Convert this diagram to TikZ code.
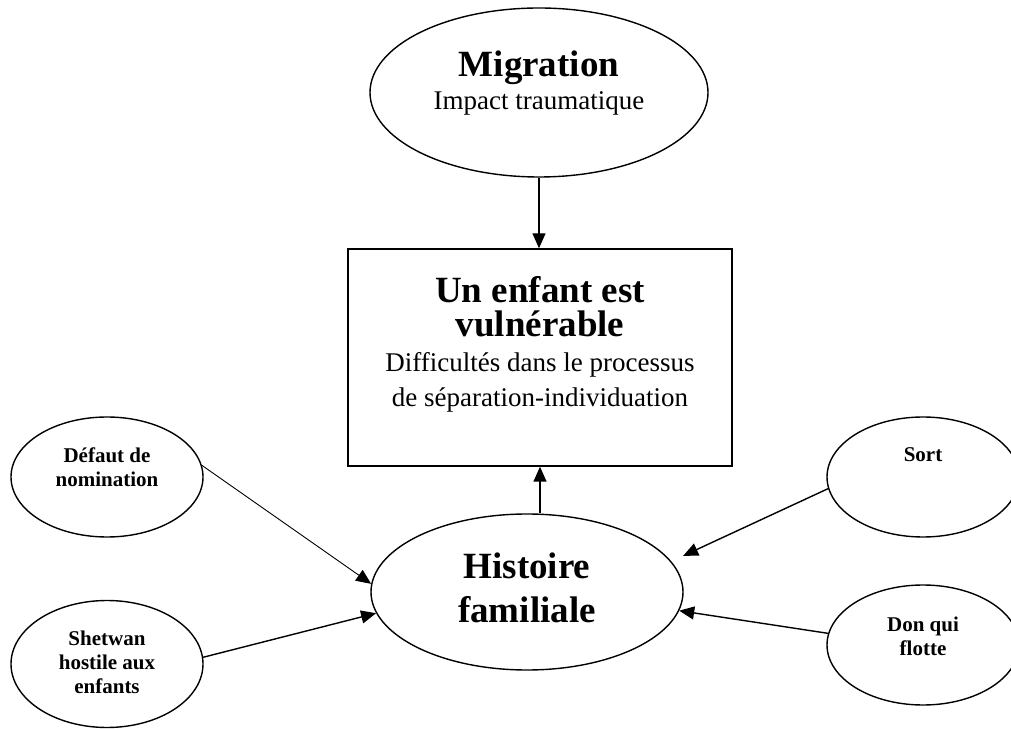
\documentclass[tikz,border=0pt]{standalone}
\usepackage{fontspec}
\setmainfont{Liberation Serif}
\usetikzlibrary{shapes.geometric,arrows.meta}
\begin{document}
\begin{tikzpicture}[x=1pt,y=1pt,
  ell/.style={draw, ellipse, line width=1.4pt, inner sep=0pt},
  big/.style={font=\fontsize{37}{34}\selectfont\bfseries, align=center, anchor=base},
  sub/.style={font=\fontsize{27}{35}\selectfont, align=center, anchor=base},
  sm/.style={font=\fontsize{21}{24}\selectfont\bfseries, align=center, anchor=base},
  arr/.style={-{Triangle[length=15pt,width=13pt]}, line width=1.4pt}]
\useasboundingbox (0,0) rectangle (1011,728);
% top ellipse
\node[ell, minimum width=338pt, minimum height=169pt] (mig) at (539,635.5) {};
\node[big] (migt) at (539,651) {Migration};
\node[sub] (migs) at (539,618) {Impact traumatique};
% box
\node[draw, line width=1.4pt, minimum width=384pt, minimum height=217pt, inner sep=0pt] (box) at (540,370.5) {};
\node[big] (boxt) at (540,391) {Un enfant est\\vulnérable};
\node[sub] (boxs) at (540,321) {Difficultés dans le processus\\de séparation-individuation};
% central ellipse
\node[ell, minimum width=312pt, minimum height=156pt] (hist) at (527,136) {};
\node[big, font=\fontsize{37}{44}\selectfont\bfseries] (histt) at (527,106) {Histoire\\familiale};
% side ellipses
\node[ell, minimum width=192pt, minimum height=120pt] (def) at (107,251) {};
\node[sm] (deft) at (107,241) {Défaut de\\nomination};
\node[ell, minimum width=192pt, minimum height=127pt] (shet) at (107,64) {};
\node[sm] (shett) at (107,35) {Shetwan\\hostile aux\\enfants};
\node[ell, minimum width=192pt, minimum height=120pt] (sort) at (923,251) {};
\node[sm] (sortt) at (923,266) {Sort};
\node[ell, minimum width=192pt, minimum height=120pt] (don) at (923,83) {};
\node[sm] (dont) at (923,73) {Don qui\\flotte};
% arrows
\draw[arr] (mig.south) -- (mig.south |- box.north);
\draw[arr] (hist.north -| box.south) -- (box.south);
\draw[arr, line width=0.9pt] (def.7) -- (hist.177);
\draw[arr] (shet.4) -- (hist.188);
\draw[arr, shorten >=13pt] (sort.187) -- (hist.12);
\draw[arr] (don.173) -- (hist.353);
\end{tikzpicture}
\end{document}
